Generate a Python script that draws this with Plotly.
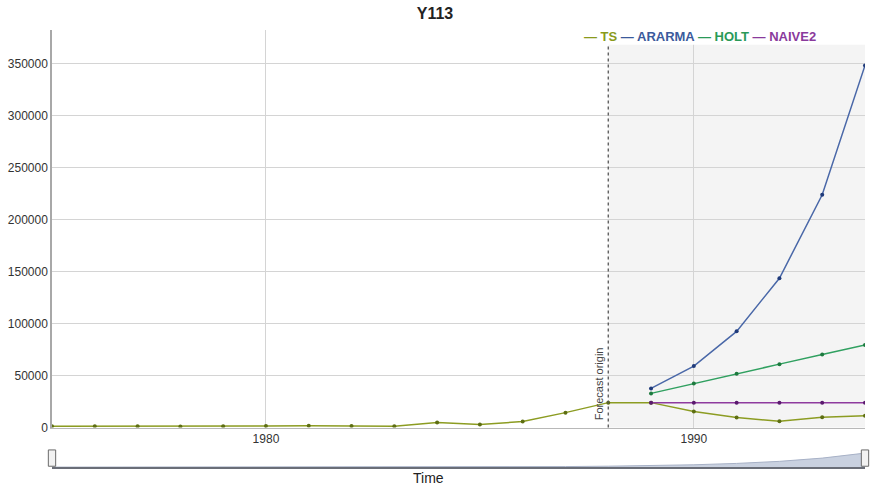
import plotly.graph_objects as go

# Observed series and forecasts for Y113
ts_years = list(range(1975, 1995))
ts_values = [1300, 1200, 1100, 1000, 1300, 1500, 1800, 1400, 1200, 4800, 3000,
             5700, 14300, 23900, 23900, 15300, 9600, 6000, 9800, 11200]

fc_years = list(range(1989, 1995))
ararma = [37600, 59000, 92400, 143400, 223700, 348000]
holt = [32800, 42400, 51600, 60900, 70100, 79300]
naive2 = [23900, 23900, 23900, 23900, 23900, 23900]

origin_year = 1988
x_range = [1975, 1994]
y_max = 382000
y_ticks = [0, 50000, 100000, 150000, 200000, 250000, 300000, 350000]
x_ticks = [1980, 1990]

series_names = ["TS", "ARARMA", "HOLT", "NAIVE2"]
colors = {
    "TS": ("#8c9c22", "#5d6e12", "#8a9a1c"),
    "ARARMA": ("#4a68a8", "#1f3a7a", "#3b5a9c"),
    "HOLT": ("#30a060", "#1d7a3e", "#2a9a58"),
    "NAIVE2": ("#8e3a9e", "#5a1a6e", "#8a3a9c"),
}

fig = go.Figure()


def add_series(name, xs, ys):
    line_c, mark_c, _ = colors[name]
    fig.add_trace(go.Scatter(
        x=xs, y=ys, mode="lines+markers", name=name,
        line=dict(color=line_c, width=1.5),
        marker=dict(color=mark_c, size=4),
        xaxis="x", yaxis="y", showlegend=False,
    ))


add_series("TS", ts_years, ts_values)
add_series("ARARMA", fc_years, ararma)
add_series("HOLT", fc_years, holt)
add_series("NAIVE2", fc_years, naive2)

# Navigator strip: history followed by the ARARMA path
nav_y = [v for yr, v in zip(ts_years, ts_values) if yr <= origin_year] + ararma
fig.add_trace(go.Scatter(
    x=ts_years, y=nav_y, mode="lines", fill="tozeroy",
    fillcolor="#c9d1e0", line=dict(color="#a7b1c6", width=1),
    xaxis="x2", yaxis="y2", showlegend=False, hoverinfo="skip",
))

plot_h = 495 - 30 - 8
main_bottom = 0.1225
fig.update_layout(
    width=870, height=495,
    paper_bgcolor="white", plot_bgcolor="white",
    margin=dict(l=52, r=5, t=30, b=8),
    font=dict(family="Liberation Sans, Arial, sans-serif", color="#333333", size=12),
    title=dict(text="<b>Y113</b>", x=0.5, xanchor="center", y=0.972, yanchor="middle",
               font=dict(size=16, color="#222222")),
    xaxis=dict(
        domain=[0, 1], range=x_range, tickvals=x_ticks, ticks="",
        showgrid=True, gridcolor="#d4d4d4", gridwidth=1,
        showline=True, linecolor="#b8b8b8", linewidth=1,
        zeroline=False, anchor="y", tickfont=dict(size=12, color="#333333"),
    ),
    yaxis=dict(
        domain=[main_bottom, 1], range=[0, y_max], tickvals=y_ticks,
        tickformat="d",
        showgrid=True, gridcolor="#d4d4d4", gridwidth=1,
        showline=True, linecolor="#a8a8a8", linewidth=1.5,
        zeroline=False, ticks="", tickfont=dict(size=12, color="#333333"),
        anchor="x",
    ),
    xaxis2=dict(
        domain=[0, 1], range=x_range, anchor="y2", showgrid=False,
        showticklabels=False, ticks="", zeroline=False,
        showline=True, linecolor="#6a6e78", linewidth=2,
    ),
    yaxis2=dict(
        domain=[0.035, 0.068], range=[0, 370000], anchor="x2",
        showgrid=False, showticklabels=False, zeroline=False, showline=False,
    ),
    hovermode=False,
)

# Forecast window shading, origin marker and legend backdrop
legend_band = 15 / plot_h
fig.add_shape(type="rect", xref="x", yref="y domain", x0=origin_year, x1=x_range[1],
              y0=0, y1=1, fillcolor="#f4f4f4", line=dict(width=0), layer="below")
fig.add_shape(type="line", xref="x", yref="y domain", x0=origin_year, x1=origin_year,
              y0=0, y1=1, line=dict(color="#555555", width=1.3, dash="dot"))
fig.add_shape(type="rect", xref="x", yref="paper", x0=origin_year - 0.3,
              x1=x_range[1], y0=1 - legend_band, y1=1, fillcolor="white",
              line=dict(width=0), layer="above")
fig.add_annotation(text="Forecast origin", x=origin_year, xref="x", y=0, yref="y",
                   xanchor="right", yanchor="bottom", xshift=-1, yshift=5,
                   textangle=-90, showarrow=False,
                   font=dict(size=11, color="#444444"))

# Legend row
legend_text = " ".join(
    f"<span style='color:{colors[n][2]}'>— {n}</span>" for n in series_names
)
fig.add_annotation(text=f"<b>{legend_text}</b>",
                   x=(818 - 52) / (865 - 52), xref="paper", xanchor="right",
                   y=1 - 7 / plot_h, yref="paper", yanchor="middle",
                   showarrow=False, font=dict(size=13))

# Navigator handles
for xv in (0, 1):
    fig.add_shape(type="rect", xref="x2 domain", yref="paper",
                  x0=xv - 0.0045, x1=xv + 0.0045, y0=0.037, y1=0.073,
                  fillcolor="#f2f2f2", line=dict(color="#6a6a6a", width=1))

fig.add_annotation(text="Time", x=0.463, xref="paper", y=0.01, yref="paper",
                   xanchor="center", yanchor="middle", showarrow=False,
                   font=dict(size=14, color="#222222"))

fig.write_html("out.html")
